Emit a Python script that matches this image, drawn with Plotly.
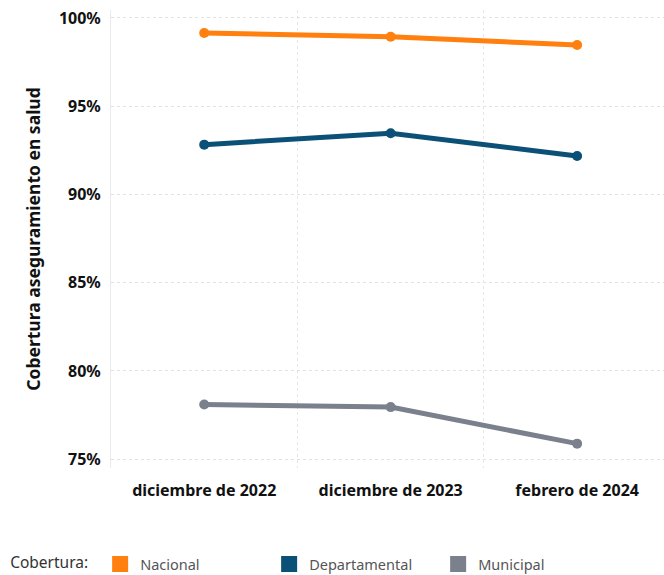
import plotly.graph_objects as go

categories = ["diciembre de 2022", "diciembre de 2023", "febrero de 2024"]
nacional = [99.15, 98.93, 98.47]
departamental = [92.82, 93.47, 92.18]
municipal = [78.1, 77.95, 75.88]
series_names = ["Nacional", "Departamental", "Municipal"]
colors = ["#FF7F0F", "#0B5077", "#7A818C"]
y_ticks = [75, 80, 85, 90, 95, 100]
y_ticklabels = ["75%", "80%", "85%", "90%", "95%", "100%"]

xs = list(range(len(categories)))
fig = go.Figure()
for name, vals, col in zip(series_names, [nacional, departamental, municipal], colors):
    fig.add_trace(go.Scatter(x=xs, y=vals, mode="lines+markers", name=name,
                             line=dict(color=col, width=5),
                             marker=dict(color=col, size=10),
                             showlegend=False, hoverinfo="skip"))
    fig.add_trace(go.Scatter(x=[None], y=[None], mode="markers", name=name,
                             marker=dict(color=col, size=17, symbol="square"),
                             showlegend=True))

fig.update_layout(
    width=664, height=575,
    margin=dict(l=111, r=0, t=10, b=107, autoexpand=False),
    plot_bgcolor="white", paper_bgcolor="white",
    font=dict(family="Noto Sans", color="#222"),
    xaxis=dict(range=[-0.5, 2.466], tickvals=xs, ticktext=categories,
               showgrid=False, zeroline=False, showline=False, automargin=False,
               ticks="outside", ticklen=8, tickcolor="rgba(0,0,0,0)",
               tickfont=dict(size=16, weight="bold", color="#111"),
               minor=dict(tickvals=[0.5, 1.5], showgrid=True, griddash="dot",
                          gridcolor="#E6E6E6", gridwidth=1, ticks="")),
    yaxis=dict(range=[74.5, 100.45], tickvals=y_ticks, ticktext=y_ticklabels,
               showgrid=True, griddash="dot", gridcolor="#E2E2E2", gridwidth=1,
               zeroline=False, showline=True, linecolor="#EBEBEB", linewidth=1,
               automargin=False,
               ticks="outside", ticklen=6, tickcolor="rgba(0,0,0,0)",
               tickfont=dict(size=16, weight="bold", color="#111"),
               title=dict(text="Cobertura aseguramiento en salud", standoff=13,
                          font=dict(size=17.5, weight="bold", color="#111"))),
    legend=dict(orientation="h", x=-0.186, xanchor="left", y=-0.175, yanchor="top",
                entrywidth=124, entrywidthmode="pixels",
                title=dict(text="Cobertura: ", font=dict(size=15.5, color="#333")),
                font=dict(size=14.5, color="#555"), itemsizing="trace"),
)

fig.write_html("out.html", config={"displayModeBar": False},
               post_script="document.body.style.margin='0';")
